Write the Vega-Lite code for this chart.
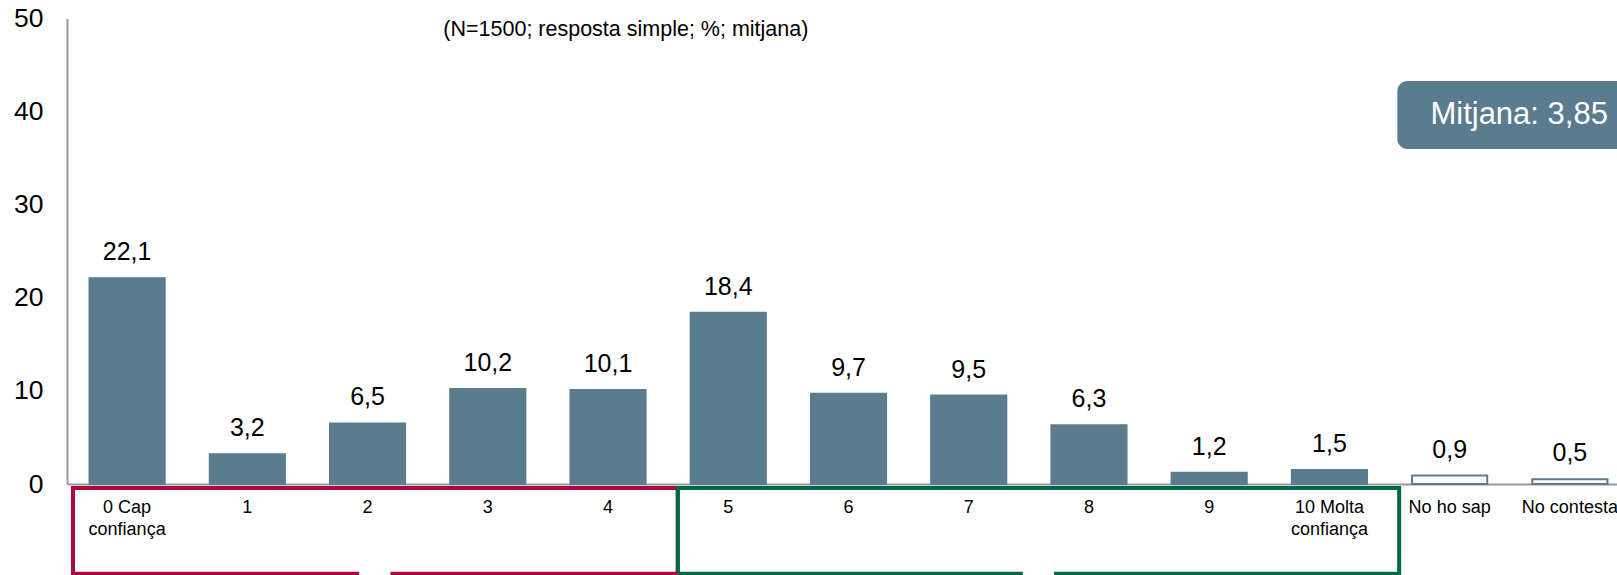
{
  "$schema": "https://vega.github.io/schema/vega-lite/v6.json",
  "autosize": {"type": "none"},
  "width": 1550,
  "height": 465.5,
  "padding": {"left": 67, "top": 18.5, "right": 0, "bottom": 91},
  "background": "white",
  "config": {
    "view": {"stroke": null},
    "font": "Liberation Sans",
    "locale": {"number": {"decimal": ",", "thousands": ".", "grouping": [3], "currency": ["", " €"]}}
  },
  "datasets": {
    "bars": [
      {"cat": "0 Cap confiança", "v": 22.1, "kind": "score"},
      {"cat": "1", "v": 3.2, "kind": "score"},
      {"cat": "2", "v": 6.5, "kind": "score"},
      {"cat": "3", "v": 10.2, "kind": "score"},
      {"cat": "4", "v": 10.1, "kind": "score"},
      {"cat": "5", "v": 18.4, "kind": "score"},
      {"cat": "6", "v": 9.7, "kind": "score"},
      {"cat": "7", "v": 9.5, "kind": "score"},
      {"cat": "8", "v": 6.3, "kind": "score"},
      {"cat": "9", "v": 1.2, "kind": "score"},
      {"cat": "10 Molta confiança", "v": 1.5, "kind": "score"},
      {"cat": "No ho sap", "v": 0.9, "kind": "nsnc"},
      {"cat": "No contesta", "v": 0.5, "kind": "nsnc"}
    ],
    "boxes": [
      {"x": 0.05, "x2": 5.08, "y": -0.43, "y2": -12, "c": "red"},
      {"x": 5.08, "x2": 11.08, "y": -0.43, "y2": -12, "c": "green"}
    ],
    "bottoms": [
      {"x": 0.05, "x2": 2.43, "y": -9.65, "c": "red"},
      {"x": 2.69, "x2": 5.08, "y": -9.65, "c": "red"},
      {"x": 5.08, "x2": 7.95, "y": -9.65, "c": "green"},
      {"x": 8.21, "x2": 11.08, "y": -9.65, "c": "green"}
    ],
    "badge": [
      {"x": 11.065, "x2": 13.8, "y": 43.29, "y2": 35.98, "label": "Mitjana: 3,85", "tx": 11.34, "ty": 39.63}
    ],
    "subtitle": [
      {"label": "(N=1500; resposta simple; %; mitjana)", "tx": 3.13, "ty": 48.76}
    ]
  },
  "layer": [
    {
      "data": {"name": "bars"},
      "encoding": {
        "x": {
          "field": "cat", "type": "nominal", "sort": null,
          "scale": {"range": [0, 1563], "paddingInner": 0.375, "paddingOuter": 0.1875},
          "axis": {
            "title": null,
            "ticks": false,
            "domainColor": "#999999",
            "domainWidth": 2,
            "labelAngle": 0,
            "labelFontSize": 18,
            "labelColor": "#000000",
            "labelPadding": 14,
            "labelBaseline": "top",
            "labelLineHeight": 22,
            "labelLimit": 300,
            "labelOverlap": false,
            "labelExpr": "datum.value == '0 Cap confiança' ? ['0 Cap', 'confiança'] : datum.value == '10 Molta confiança' ? ['10 Molta', 'confiança'] : datum.label"
          }
        },
        "y": {
          "field": "v", "type": "quantitative",
          "scale": {"domain": [0, 50], "nice": false},
          "axis": {
            "title": null,
            "values": [0, 10, 20, 30, 40, 50],
            "ticks": false,
            "grid": false,
            "domainColor": "#999999",
            "domainWidth": 2,
            "labelFontSize": 26.5,
            "labelColor": "#000000",
            "labelPadding": 24,
            "format": "d"
          }
        }
      },
      "layer": [
        {
          "mark": {"type": "bar", "stroke": "#5B7C8E", "strokeWidth": 2},
          "encoding": {
            "fill": {"field": "kind", "type": "nominal", "scale": {"domain": ["score", "nsnc"], "range": ["#5B7C8E", "#FFFFFF"]}, "legend": null}
          }
        },
        {
          "mark": {"type": "text", "fontSize": 25, "color": "#000000", "baseline": "middle", "dy": -26},
          "encoding": {
            "text": {"field": "v", "type": "quantitative", "format": ".1f"}
          }
        }
      ]
    },
    {
      "layer": [
        {
          "data": {"name": "boxes"},
          "mark": {"type": "rect", "fill": null, "fillOpacity": 0, "strokeWidth": 4},
          "encoding": {
            "x": {"field": "x", "type": "quantitative", "scale": {"domain": [0, 13], "range": [0, 1563], "nice": false, "zero": false}, "axis": null},
            "x2": {"field": "x2"},
            "y": {"field": "y", "type": "quantitative", "scale": {"domain": [0, 50], "nice": false}, "axis": null},
            "y2": {"field": "y2"},
            "stroke": {"field": "c", "type": "nominal", "scale": {"domain": ["red", "green"], "range": ["#AC0A3E", "#006A47"]}, "legend": null}
          }
        },
        {
          "data": {"name": "bottoms"},
          "mark": {"type": "rule", "strokeWidth": 4},
          "encoding": {
            "x": {"field": "x", "type": "quantitative", "axis": null},
            "x2": {"field": "x2"},
            "y": {"field": "y", "type": "quantitative", "axis": null},
            "color": {"field": "c", "type": "nominal", "scale": {"domain": ["red", "green"], "range": ["#AC0A3E", "#006A47"]}, "legend": null}
          }
        },
        {
          "data": {"name": "badge"},
          "mark": {"type": "rect", "fill": "#5B7C8E", "cornerRadius": 10},
          "encoding": {
            "x": {"field": "x", "type": "quantitative", "axis": null},
            "x2": {"field": "x2"},
            "y": {"field": "y", "type": "quantitative", "axis": null},
            "y2": {"field": "y2"}
          }
        },
        {
          "data": {"name": "badge"},
          "mark": {"type": "text", "fill": "#FFFFFF", "fontSize": 31, "align": "left", "baseline": "middle"},
          "encoding": {
            "x": {"field": "tx", "type": "quantitative", "axis": null},
            "y": {"field": "ty", "type": "quantitative", "axis": null},
            "text": {"field": "label", "type": "nominal"}
          }
        },
        {
          "data": {"name": "subtitle"},
          "mark": {"type": "text", "fill": "#000000", "fontSize": 21.5, "align": "left", "baseline": "middle"},
          "encoding": {
            "x": {"field": "tx", "type": "quantitative", "axis": null},
            "y": {"field": "ty", "type": "quantitative", "axis": null},
            "text": {"field": "label", "type": "nominal"}
          }
        }
      ]
    }
  ],
  "resolve": {
    "scale": {"x": "independent", "y": "independent", "stroke": "independent", "color": "independent"},
    "axis": {"x": "independent", "y": "independent"}
  }
}
